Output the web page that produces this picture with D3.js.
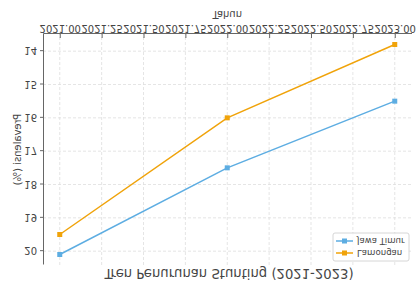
<!DOCTYPE html>
<html>
<head>
<meta charset="utf-8">
<script src="https://cdn.jsdelivr.net/npm/d3@7"></script>
<style>
  body { margin: 0; background: #fff; }
  svg { display: block; font-family: "DejaVu Sans", sans-serif; }
</style>
</head>
<body>
<div id="chart"></div>
<script>
// data
var years = [2021, 2022, 2023];
var jawaTimur = [20.1, 17.5, 15.5];
var lamongan = [19.5, 16.0, 13.8];
var yTicks = [14, 15, 16, 17, 18, 19, 20];
var xTicks = [2021, 2021.25, 2021.5, 2021.75, 2022, 2022.25, 2022.5, 2022.75, 2023];

var W = 417, H = 282;
var margin = {top: 17, right: 5.5, bottom: 34, left: 43};

var svg = d3.select("#chart").append("svg")
  .attr("width", W).attr("height", H);

// the reference picture is mirrored top to bottom
var root = svg.append("g")
  .attr("transform", "translate(0," + H + ") scale(1,-1)");

var x = d3.scaleLinear().domain([2020.9, 2023.1]).range([margin.left, W - margin.right]);
var y = d3.scaleLinear().domain([13.485, 20.415]).range([H - margin.bottom, margin.top]);

// grid
root.append("g").selectAll("line").data(xTicks).enter().append("line")
  .attr("x1", function(d) { return x(d); }).attr("x2", function(d) { return x(d); })
  .attr("y1", margin.top).attr("y2", H - margin.bottom)
  .style("stroke", "#dedede").style("stroke-dasharray", "3,2").style("stroke-width", 0.8);
root.append("g").selectAll("line").data(yTicks).enter().append("line")
  .attr("x1", margin.left).attr("x2", W - margin.right)
  .attr("y1", function(d) { return y(d); }).attr("y2", function(d) { return y(d); })
  .style("stroke", "#dedede").style("stroke-dasharray", "3,2").style("stroke-width", 0.8);

// axes (x ticks point into the plot, y ticks point out)
var xAxis = root.append("g")
  .attr("transform", "translate(0," + (H - margin.bottom) + ")")
  .call(d3.axisBottom(x).tickValues(xTicks).tickFormat(d3.format(".2f"))
    .tickSizeInner(-4).tickSizeOuter(0).tickPadding(2));
var yAxis = root.append("g")
  .attr("transform", "translate(" + margin.left + ",0)")
  .call(d3.axisLeft(y).tickValues(yTicks).tickFormat(d3.format("d"))
    .tickSizeInner(3).tickSizeOuter(0).tickPadding(3));
[xAxis, yAxis].forEach(function(a) {
  a.select(".domain").style("stroke", "#666");
  a.selectAll(".tick line").style("stroke", "#666");
  a.selectAll("text").style("fill", "#444").style("font-size", "10px")
    .style("font-family", "DejaVu Sans, sans-serif");
});

// labels
root.append("text").attr("x", (margin.left + W - margin.right) / 2).attr("y", 271)
  .attr("text-anchor", "middle").style("font-size", "10px").style("fill", "#444").text("Tahun");
root.append("text").attr("transform", "translate(17," + ((margin.top + H - margin.bottom) / 2) + ") rotate(-90)")
  .attr("text-anchor", "middle").attr("dy", "0.35em").style("font-size", "10px").style("fill", "#444")
  .text("Prevalensi (%)");
root.append("text").attr("x", 229).attr("y", 13.5)
  .attr("text-anchor", "middle").style("font-size", "13.2px").style("fill", "#444")
  .text("Tren Penurunan Stunting (2021-2023)");

// series
var series = [
  {name: "Lamongan", values: lamongan, color: "#f0a30a"},
  {name: "Jawa Timur", values: jawaTimur, color: "#5dade2"}
];
var line = d3.line().x(function(d, i) { return x(years[i]); }).y(function(d) { return y(d); });

series.forEach(function(s) {
  root.append("path").datum(s.values).attr("d", line)
    .style("fill", "none").style("stroke", s.color).style("stroke-width", 1.5);
  root.append("g").selectAll("rect").data(s.values).enter().append("rect")
    .attr("x", function(d, i) { return x(years[i]) - 2.5; })
    .attr("y", function(d) { return y(d) - 2.5; })
    .attr("width", 5).attr("height", 5)
    .style("fill", s.color);
});

// legend
var lg = root.append("g").attr("transform", "translate(333,21)");
lg.append("rect").attr("width", 76).attr("height", 28).attr("rx", 2)
  .style("fill", "#fff").style("fill-opacity", 0.8).style("stroke", "#ccc").style("stroke-width", 0.8);
series.forEach(function(s, i) {
  var g = lg.append("g").attr("transform", "translate(0," + (8 + i * 12) + ")");
  g.append("line").attr("x1", 3).attr("x2", 20).style("stroke", s.color).style("stroke-width", 1.5);
  g.append("rect").attr("x", 9).attr("y", -2.5).attr("width", 5).attr("height", 5).style("fill", s.color);
  g.append("text").attr("x", 24).attr("dy", "0.35em").style("font-size", "8.6px").style("fill", "#444").text(s.name);
});
</script>
</body>
</html>
